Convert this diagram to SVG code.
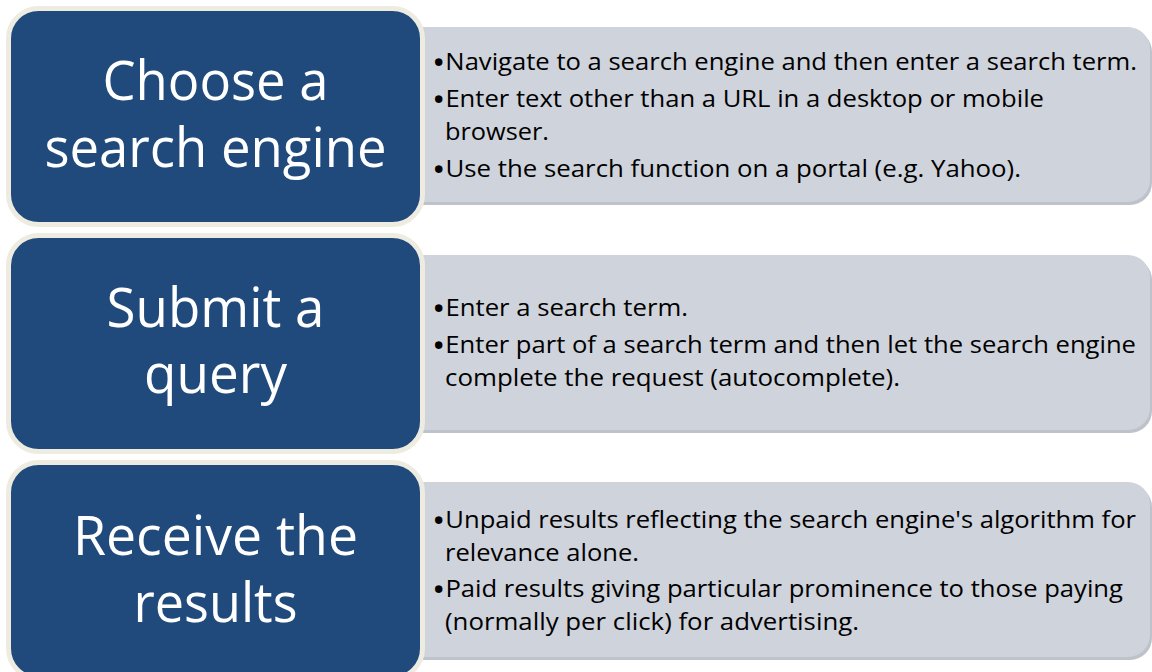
<svg xmlns="http://www.w3.org/2000/svg" width="1152" height="672" viewBox="0 0 1152 672">
  <defs>
    <style>
      .step { fill: #214A7C; stroke: #EEECE1; stroke-width: 5; }
      .panel { fill: #CFD3DB; }
      .shadow { fill: #BEC2CA; }
      .title { font-family: "Open Sans", "Liberation Sans", sans-serif; font-size: 55px; fill: #FFFFFF; text-anchor: middle; }
      .item { font-family: "Open Sans", "Liberation Sans", sans-serif; font-size: 23px; fill: #000000; }
      .bl { font-size: 32px; }
    </style>
  </defs>
  <rect width="1152" height="672" fill="#FFFFFF"/>

  <!-- Detail panels (drawn first, sit behind step boxes) -->
  <g id="panel-choose">
    <rect class="shadow" x="381" y="30" width="771" height="175" rx="22"/>
    <rect class="panel" x="380" y="27" width="770" height="175" rx="22"/>
    <text class="item" x="432" y="70" textLength="705" lengthAdjust="spacingAndGlyphs"><tspan class="bl" dy="4">•</tspan><tspan dy="-4">Navigate to a search engine and then enter a search term.</tspan></text>
    <text class="item" x="432" y="107" textLength="612" lengthAdjust="spacingAndGlyphs"><tspan class="bl" dy="4">•</tspan><tspan dy="-4">Enter text other than a URL in a desktop or mobile</tspan></text>
    <text class="item" x="445" y="140" textLength="104" lengthAdjust="spacingAndGlyphs">browser.</text>
    <text class="item" x="432" y="177" textLength="589" lengthAdjust="spacingAndGlyphs"><tspan class="bl" dy="4">•</tspan><tspan dy="-4">Use the search function on a portal (e.g. Yahoo).</tspan></text>
  </g>

  <g id="panel-submit">
    <rect class="shadow" x="381" y="258" width="771" height="175" rx="22"/>
    <rect class="panel" x="380" y="255" width="770" height="175" rx="22"/>
    <text class="item" x="432" y="316" textLength="256" lengthAdjust="spacingAndGlyphs"><tspan class="bl" dy="4">•</tspan><tspan dy="-4">Enter a search term.</tspan></text>
    <text class="item" x="432" y="353" textLength="704" lengthAdjust="spacingAndGlyphs"><tspan class="bl" dy="4">•</tspan><tspan dy="-4">Enter part of a search term and then let the search engine</tspan></text>
    <text class="item" x="445" y="386" textLength="455" lengthAdjust="spacingAndGlyphs">complete the request (autocomplete).</text>
  </g>

  <g id="panel-receive">
    <rect class="shadow" x="381" y="485" width="771" height="175" rx="22"/>
    <rect class="panel" x="380" y="482" width="770" height="175" rx="22"/>
    <text class="item" x="432" y="528" textLength="704" lengthAdjust="spacingAndGlyphs"><tspan class="bl" dy="4">•</tspan><tspan dy="-4">Unpaid results reflecting the search engine's algorithm for</tspan></text>
    <text class="item" x="445" y="561" textLength="194" lengthAdjust="spacingAndGlyphs">relevance alone.</text>
    <text class="item" x="432" y="597" textLength="691" lengthAdjust="spacingAndGlyphs"><tspan class="bl" dy="4">•</tspan><tspan dy="-4">Paid results giving particular prominence to those paying</tspan></text>
    <text class="item" x="445" y="630" textLength="414" lengthAdjust="spacingAndGlyphs">(normally per click) for advertising.</text>
  </g>

  <!-- Step boxes -->
  <g id="step-choose">
    <rect class="step" x="8.5" y="8.5" width="414" height="216" rx="30"/>
    <text class="title" x="215.5" y="100" textLength="226" lengthAdjust="spacingAndGlyphs">Choose a</text>
    <text class="title" x="215.5" y="167" textLength="342" lengthAdjust="spacingAndGlyphs">search engine</text>
  </g>

  <g id="step-submit">
    <rect class="step" x="8.5" y="235.5" width="414" height="216" rx="30"/>
    <text class="title" x="215.5" y="327" textLength="218" lengthAdjust="spacingAndGlyphs">Submit a</text>
    <text class="title" x="215.5" y="393" textLength="143" lengthAdjust="spacingAndGlyphs">query</text>
  </g>

  <g id="step-receive">
    <rect class="step" x="8.5" y="462.5" width="414" height="216" rx="30"/>
    <text class="title" x="215.5" y="555" textLength="285" lengthAdjust="spacingAndGlyphs">Receive the</text>
    <text class="title" x="215.5" y="622" textLength="164" lengthAdjust="spacingAndGlyphs">results</text>
  </g>

  <g id="connectors"/>
</svg>
